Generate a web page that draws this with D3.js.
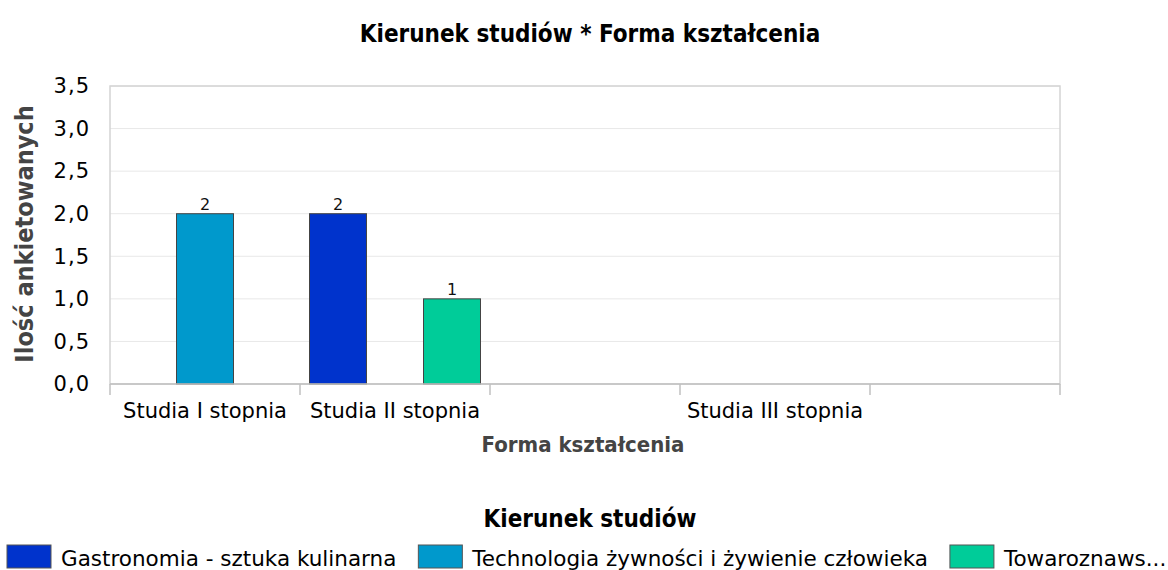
<!DOCTYPE html>
<html>
<head>
<meta charset="utf-8">
<script src="https://cdn.jsdelivr.net/npm/d3@7"></script>
<style>
  body { margin: 0; background: #fff; }
  text { font-family: "DejaVu Sans", Verdana, sans-serif; }
</style>
</head>
<body>
<div id="chart"></div>
<script>
// Data
const categories = ["Studia I stopnia", "Studia II stopnia", "kat3", "Studia III stopnia", "kat5"];
const categoryLabels = ["Studia I stopnia", "Studia II stopnia", "", "Studia III stopnia", ""];
const series = ["Gastronomia - sztuka kulinarna", "Technologia żywności i żywienie człowieka", "Towaroznawstwo"];
const legendLabels = ["Gastronomia - sztuka kulinarna", "Technologia żywności i żywienie człowieka", "Towaroznaws..."];
const gastronomia = [0, 2, 0, 0, 0];
const technologia = [2, 0, 0, 0, 0];
const towaroznawstwo = [0, 1, 0, 0, 0];
const yTicks = [0, 0.5, 1, 1.5, 2, 2.5, 3, 3.5];
const colors = ["#0033cc", "#0099cc", "#00cc99"];

const values = [gastronomia, technologia, towaroznawstwo];

const W = 1168, H = 570;
const margin = {top: 86, right: 108, bottom: 186, left: 110};
const width = W - margin.left - margin.right,
      height = H - margin.top - margin.bottom;

const svg = d3.select("#chart").append("svg")
    .attr("width", W)
    .attr("height", H);

// Title
svg.append("text")
    .attr("x", 590)
    .attr("y", 42)
    .attr("text-anchor", "middle")
    .style("font-family", "'DejaVu Sans Condensed', sans-serif")
    .style("font-weight", "bold")
    .style("font-size", "24px")
    .attr("fill", "#000")
    .text("Kierunek studiów * Forma kształcenia");

const g = svg.append("g")
    .attr("transform", `translate(${margin.left},${margin.top})`);

// Scales
const x0 = d3.scaleBand()
    .domain(categories)
    .range([0, width]);
const x1 = d3.scaleBand()
    .domain(series)
    .range([0, x0.bandwidth()])
    .paddingOuter(1 / 6);
const y = d3.scaleLinear()
    .domain([0, 3.5])
    .range([height, 0]);

// Gridlines
g.selectAll(".grid")
    .data(yTicks.slice(1))
    .enter().append("line")
    .attr("x1", 0)
    .attr("x2", width)
    .attr("y1", d => y(d))
    .attr("y2", d => y(d))
    .attr("stroke", "#e8e8e8")
    .attr("stroke-width", 1);

// Plot border
g.append("rect")
    .attr("x", 0)
    .attr("y", 0)
    .attr("width", width)
    .attr("height", height)
    .attr("fill", "none")
    .attr("stroke", "#d4d4d4")
    .attr("stroke-width", 1.5);

// Bars
const rows = [];
categories.forEach((c, i) => {
    series.forEach((s, j) => {
        rows.push({cat: c, ser: s, value: values[j][i], color: colors[j]});
    });
});
const shown = rows.filter(d => d.value > 0);

g.selectAll(".bar")
    .data(shown)
    .enter().append("rect")
    .attr("class", "bar")
    .attr("x", d => x0(d.cat) + x1(d.ser))
    .attr("y", d => y(d.value))
    .attr("width", x1.bandwidth())
    .attr("height", d => height - y(d.value))
    .attr("fill", d => d.color)
    .attr("stroke", "#444")
    .attr("stroke-width", 1);

// Value labels
g.selectAll(".val")
    .data(shown)
    .enter().append("text")
    .attr("x", d => x0(d.cat) + x1(d.ser) + x1.bandwidth() / 2)
    .attr("y", d => y(d.value) - 4)
    .attr("text-anchor", "middle")
    .style("font-size", "16px")
    .attr("fill", "#111")
    .text(d => d.value);

// X axis
const xAxis = g.append("g")
    .attr("transform", `translate(0,${height})`);
xAxis.append("line")
    .attr("x1", 0).attr("x2", width)
    .attr("stroke", "#c0c0c0").attr("stroke-width", 1.5);
xAxis.selectAll(".xtick")
    .data(categories.map(c => x0(c)).concat([width]))
    .enter().append("line")
    .attr("x1", d => d).attr("x2", d => d)
    .attr("y1", 0).attr("y2", 11)
    .attr("stroke", "#c0c0c0").attr("stroke-width", 1.5);
xAxis.selectAll(".xlabel")
    .data(categories)
    .enter().append("text")
    .attr("x", d => x0(d) + x0.bandwidth() / 2)
    .attr("y", 34)
    .attr("text-anchor", "middle")
    .style("font-size", "21px")
    .attr("fill", "#000")
    .text((d, i) => categoryLabels[i]);

// Y axis
g.selectAll(".ylabel")
    .data(yTicks)
    .enter().append("text")
    .attr("x", -20)
    .attr("y", d => y(d))
    .attr("dy", "0.35em")
    .attr("text-anchor", "end")
    .style("font-size", "21px")
    .style("letter-spacing", "1px")
    .attr("fill", "#000")
    .text(d => d3.format(".1f")(d).replace(".", ","));

// Axis titles
svg.append("text")
    .attr("x", margin.left + width / 2 - 2)
    .attr("y", 452)
    .attr("text-anchor", "middle")
    .style("font-family", "'DejaVu Sans Condensed', sans-serif")
    .style("font-weight", "bold")
    .style("font-size", "22px")
    .attr("fill", "#444")
    .text("Forma kształcenia");

svg.append("text")
    .attr("transform", `translate(33,${margin.top + height / 2 - 1}) rotate(-90)`)
    .attr("text-anchor", "middle")
    .style("font-family", "'DejaVu Sans Condensed', sans-serif")
    .style("font-weight", "bold")
    .style("font-size", "25px")
    .attr("fill", "#444")
    .text("Ilość ankietowanych");

// Legend
svg.append("text")
    .attr("x", 590)
    .attr("y", 527)
    .attr("text-anchor", "middle")
    .style("font-family", "'DejaVu Sans Condensed', sans-serif")
    .style("font-weight", "bold")
    .style("font-size", "24px")
    .attr("fill", "#000")
    .text("Kierunek studiów");

let lx = 7;
legendLabels.forEach((lab, i) => {
    svg.append("rect")
        .attr("x", lx)
        .attr("y", 545)
        .attr("width", 44)
        .attr("height", 23)
        .attr("fill", colors[i])
        .attr("stroke", "#555")
        .attr("stroke-width", 1);
    const t = svg.append("text")
        .attr("x", lx + 54)
        .attr("y", 566)
        .style("font-size", "21.5px")
        .attr("fill", "#000")
        .text(lab);
    lx += 54 + t.node().getComputedTextLength() + 22;
});
</script>
</body>
</html>
